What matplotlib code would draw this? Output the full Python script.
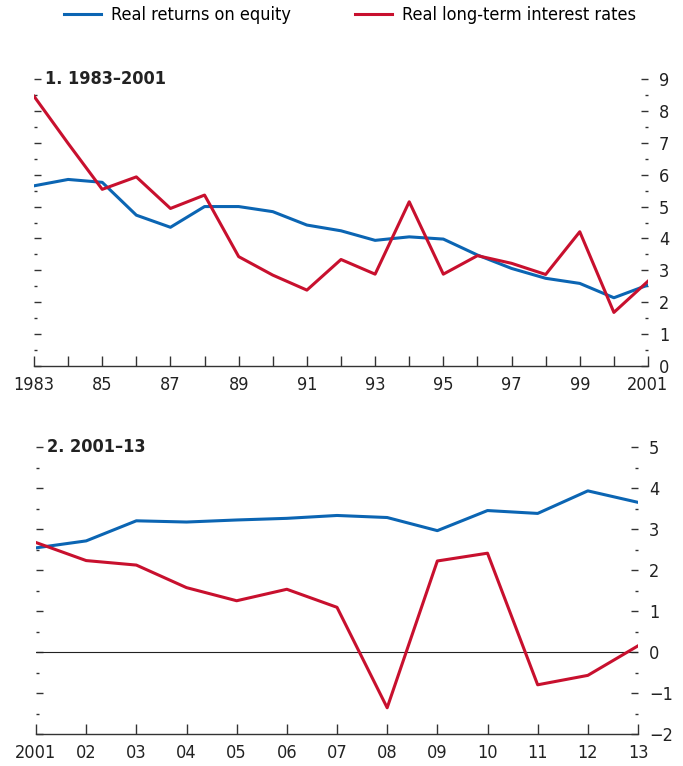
import numpy as np
import matplotlib
matplotlib.use("Agg")
import matplotlib.pyplot as plt
from matplotlib.ticker import MultipleLocator, FixedLocator

plt.rcParams['font.family'] = ['DejaVu Sans']
plt.rcParams['font.stretch'] = 'condensed'

# Панель 1: 1983–2001
years1 = list(range(1983, 2002))
equity1 = [5.65, 5.85, 5.76, 4.73, 4.35, 5.00, 5.00, 4.84, 4.42, 4.24,
           3.94, 4.05, 3.98, 3.48, 3.06, 2.75, 2.59, 2.14, 2.54]
rates1 = [8.46, 6.98, 5.54, 5.93, 4.94, 5.36, 3.43, 2.85, 2.38, 3.34,
          2.88, 5.15, 2.88, 3.46, 3.22, 2.87, 4.21, 1.68, 2.66]
xlabels1 = ['1983', '', '85', '', '87', '', '89', '', '91', '', '93', '',
            '95', '', '97', '', '99', '', '2001']

# Панель 2: 2001–13
years2 = list(range(2001, 2014))
equity2 = [2.54, 2.71, 3.20, 3.17, 3.22, 3.26, 3.33, 3.28, 2.96, 3.45,
           3.38, 3.93, 3.65]
rates2 = [2.67, 2.23, 2.12, 1.57, 1.25, 1.53, 1.09, -1.36, 2.22, 2.41,
          -0.80, -0.57, 0.15]
xlabels2 = ['2001', '02', '03', '04', '05', '06', '07', '08', '09', '10',
            '11', '12', '13']

BLUE = '#0b65b3'
RED = '#c8102e'
FS = 13

W, H = 683, 766
fig = plt.figure(figsize=(W / 100, H / 100), dpi=100)


def make_axes(x0, x1, y0, y1):
    return fig.add_axes([x0 / W, 1 - y1 / H, (x1 - x0) / W, (y1 - y0) / H])


def style(ax, ymin, ymax, years, labels):
    ax.set_ylim(ymin, ymax)
    ax.set_xlim(years[0], years[-1])
    for s in ['top', 'left', 'right']:
        ax.spines[s].set_visible(False)
    ax.spines['bottom'].set_linewidth(1.0)
    ax.spines['bottom'].set_color('#333333')
    ax.xaxis.set_major_locator(FixedLocator(years))
    ax.set_xticklabels(labels)
    ax.tick_params(axis='x', direction='in', length=7, width=1.0,
                   color='#333333', labelsize=FS, pad=7, labelcolor='#222222')
    ax.yaxis.set_major_locator(MultipleLocator(1))
    ax.yaxis.set_minor_locator(MultipleLocator(0.5))
    ax.tick_params(axis='y', which='major', direction='in', length=5,
                   width=1.0, color='#333333', left=True, right=True,
                   labelleft=False, labelright=True, labelsize=FS, pad=8,
                   labelcolor='#222222')
    ax.tick_params(axis='y', which='minor', direction='in', length=2.5,
                   width=1.0, color='#333333', left=True, right=True)


# верхняя панель
ax1 = make_axes(34, 648, 79, 366)
ax1.plot(years1, equity1, color=BLUE, lw=2.2, label='Real returns on equity')
ax1.plot(years1, rates1, color=RED, lw=2.2, label='Real long-term interest rates')
style(ax1, 0, 9, years1, xlabels1)
ax1.set_yticks(range(0, 10))
ax1.text(0.018, 1.0, '1. 1983–2001', transform=ax1.transAxes, fontsize=FS,
         fontweight='bold', va='center', ha='left', color='#222222')

# нижняя панель
ax2 = make_axes(36, 638, 447, 734)
ax2.axhline(0, color='#222222', lw=0.8)
ax2.plot(years2, equity2, color=BLUE, lw=2.2)
ax2.plot(years2, rates2, color=RED, lw=2.2)
style(ax2, -2, 5, years2, xlabels2)
ax2.set_yticks(range(-2, 6))
ax2.set_yticklabels(['−2', '−1', '0', '1', '2', '3', '4', '5'])
ax2.text(0.018, 1.0, '2. 2001–13', transform=ax2.transAxes, fontsize=FS,
         fontweight='bold', va='center', ha='left', color='#222222')

# легенда
handles, labels = ax1.get_legend_handles_labels()
fig.legend(handles, labels, loc='center', bbox_to_anchor=(350 / W, 1 - 15 / H),
           ncol=2, frameon=False, fontsize=FS, handlelength=2.05,
           columnspacing=3.5, handletextpad=0.55)

fig.savefig('out.png', dpi=100)
